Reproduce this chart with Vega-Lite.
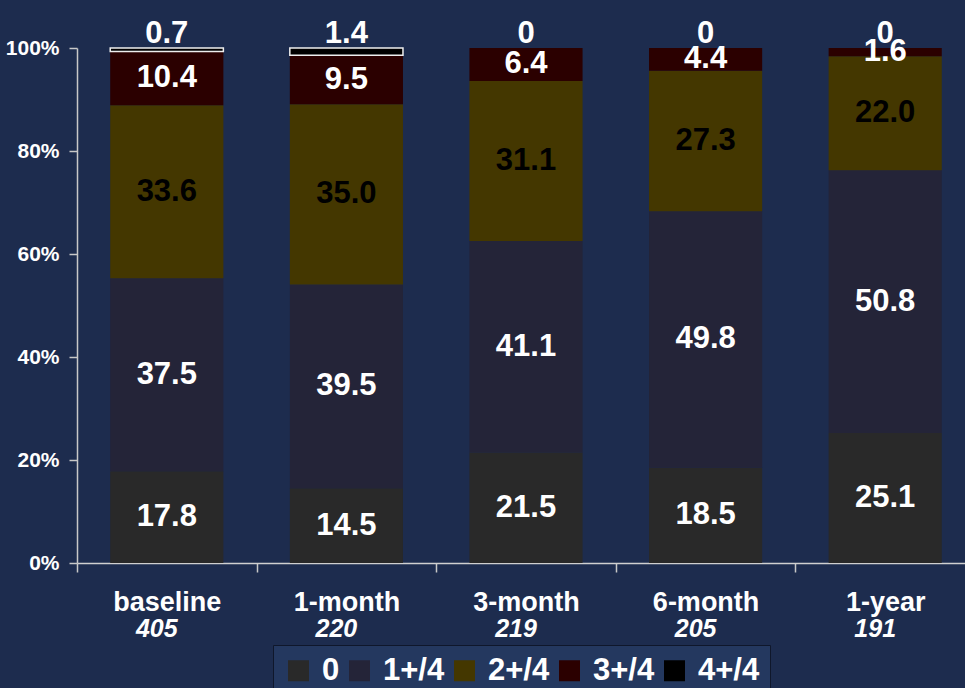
{
  "$schema": "https://vega.github.io/schema/vega-lite/v6.json",
  "width": 898,
  "height": 515,
  "autosize": {"type": "none"},
  "padding": {"left": 77, "top": 48, "right": 0, "bottom": 125},
  "background": "#1d2c4e",
  "config": {"view": {"stroke": null}, "font": "Liberation Sans"},
  "data": {
    "values": [
      {"time": "baseline", "grade": "0", "value": 17.8},
      {"time": "baseline", "grade": "1+/4", "value": 37.5},
      {"time": "baseline", "grade": "2+/4", "value": 33.6},
      {"time": "baseline", "grade": "3+/4", "value": 10.4},
      {"time": "baseline", "grade": "4+/4", "value": 0.7},
      {"time": "1-month", "grade": "0", "value": 14.5},
      {"time": "1-month", "grade": "1+/4", "value": 39.5},
      {"time": "1-month", "grade": "2+/4", "value": 35.0},
      {"time": "1-month", "grade": "3+/4", "value": 9.5},
      {"time": "1-month", "grade": "4+/4", "value": 1.4},
      {"time": "3-month", "grade": "0", "value": 21.5},
      {"time": "3-month", "grade": "1+/4", "value": 41.1},
      {"time": "3-month", "grade": "2+/4", "value": 31.1},
      {"time": "3-month", "grade": "3+/4", "value": 6.4},
      {"time": "3-month", "grade": "4+/4", "value": 0},
      {"time": "6-month", "grade": "0", "value": 18.5},
      {"time": "6-month", "grade": "1+/4", "value": 49.8},
      {"time": "6-month", "grade": "2+/4", "value": 27.3},
      {"time": "6-month", "grade": "3+/4", "value": 4.4},
      {"time": "6-month", "grade": "4+/4", "value": 0},
      {"time": "1-year", "grade": "0", "value": 25.1},
      {"time": "1-year", "grade": "1+/4", "value": 50.8},
      {"time": "1-year", "grade": "2+/4", "value": 22.0},
      {"time": "1-year", "grade": "3+/4", "value": 1.6},
      {"time": "1-year", "grade": "4+/4", "value": 0}
    ]
  },
  "resolve": {"axis": {"x": "independent"}},
  "layer": [
    {
      "mark": {"type": "bar", "width": {"band": 0.63}, "strokeWidth": 1.5},
      "encoding": {
        "x": {
          "field": "time", "type": "nominal",
          "sort": ["baseline", "1-month", "3-month", "6-month", "1-year"],
          "scale": {"paddingInner": 0, "paddingOuter": 0},
          "axis": {
            "title": null, "labelAngle": 0, "orient": "bottom",
            "labelFontSize": 27, "labelFontWeight": "bold", "labelColor": "#ffffff",
            "tickBand": "extent", "tickSize": 9, "tickColor": "#c8c8c8", "tickWidth": 1.5,
            "domainColor": "#d0d0d0", "domainWidth": 1.5, "labelPadding": 17
          }
        },
        "y": {
          "field": "value", "type": "quantitative", "stack": "normalize",
          "scale": {"domain": [0, 1], "nice": false},
          "axis": {
            "title": null, "format": "%", "values": [0, 0.2, 0.4, 0.6, 0.8, 1],
            "grid": false, "labelFontSize": 21, "labelFontWeight": "bold", "labelColor": "#ffffff",
            "tickSize": 8, "tickColor": "#c8c8c8", "tickWidth": 1.5,
            "domainColor": "#c8c8c8", "domainWidth": 1.5, "labelPadding": 10
          }
        },
        "color": {
          "field": "grade", "type": "nominal",
          "scale": {
            "domain": ["0", "1+/4", "2+/4", "3+/4", "4+/4"],
            "range": ["#292929", "#242438", "#443700", "#2b0000", "#000000"]
          },
          "legend": {
            "title": null, "orient": "none", "legendX": 196, "legendY": 597,
            "direction": "horizontal", "symbolType": "square", "symbolSize": 441,
            "symbolStrokeWidth": 1.5,
            "labelFontSize": 31, "labelFontWeight": "bold", "labelColor": "#ffffff",
            "labelOffset": 8, "columnPadding": 4, "padding": 10,
            "fillColor": "#24385f", "strokeColor": "#0f172b",
            "encode": {
              "symbols": {
                "update": {
                  "stroke": [
                    {"test": "datum.value === '4+/4'", "value": "#cccccc"},
                    {"value": "transparent"}
                  ]
                }
              }
            }
          }
        },
        "order": {"field": "grade", "type": "ordinal", "sort": "ascending"},
        "stroke": {
          "condition": {"test": "datum.grade === '4+/4' && datum.value > 0", "value": "#eeeeee"},
          "value": "transparent"
        }
      }
    },
    {
      "mark": {"type": "text", "fontSize": 31, "fontWeight": "bold", "baseline": "middle"},
      "encoding": {
        "x": {
          "field": "time", "type": "nominal",
          "sort": ["baseline", "1-month", "3-month", "6-month", "1-year"],
          "axis": {
            "title": null, "labelAngle": 0, "orient": "bottom", "domain": false, "ticks": false,
            "labelExpr": "datum.value === 'baseline' ? '405' : datum.value === '1-month' ? '220' : datum.value === '3-month' ? '219' : datum.value === '6-month' ? '205' : '191'",
            "labelFontSize": 25, "labelFontWeight": "bold", "labelFontStyle": "italic",
            "labelColor": "#ffffff", "labelPadding": 53, "labelOffset": -10
          }
        },
        "y": {"field": "value", "type": "quantitative", "stack": "normalize", "bandPosition": 0.5},
        "detail": {"field": "grade"},
        "order": {"field": "grade", "type": "ordinal", "sort": "ascending"},
        "text": {
          "condition": {"test": "datum.grade === '4+/4'", "value": ""},
          "field": "value", "format": ".1f"
        },
        "color": {
          "condition": {"test": "datum.grade === '2+/4'", "value": "#000000"},
          "value": "#ffffff"
        }
      }
    },
    {
      "mark": {"type": "text", "fontSize": 31, "fontWeight": "bold", "baseline": "alphabetic", "dy": -5, "color": "#ffffff"},
      "encoding": {
        "x": {
          "field": "time", "type": "nominal",
          "sort": ["baseline", "1-month", "3-month", "6-month", "1-year"],
          "axis": null
        },
        "y": {"field": "value", "type": "quantitative", "stack": "normalize"},
        "detail": {"field": "grade"},
        "order": {"field": "grade", "type": "ordinal", "sort": "ascending"},
        "text": {
          "condition": {"test": "datum.grade !== '4+/4'", "value": ""},
          "field": "value", "format": ".1~f"
        }
      }
    }
  ]
}
